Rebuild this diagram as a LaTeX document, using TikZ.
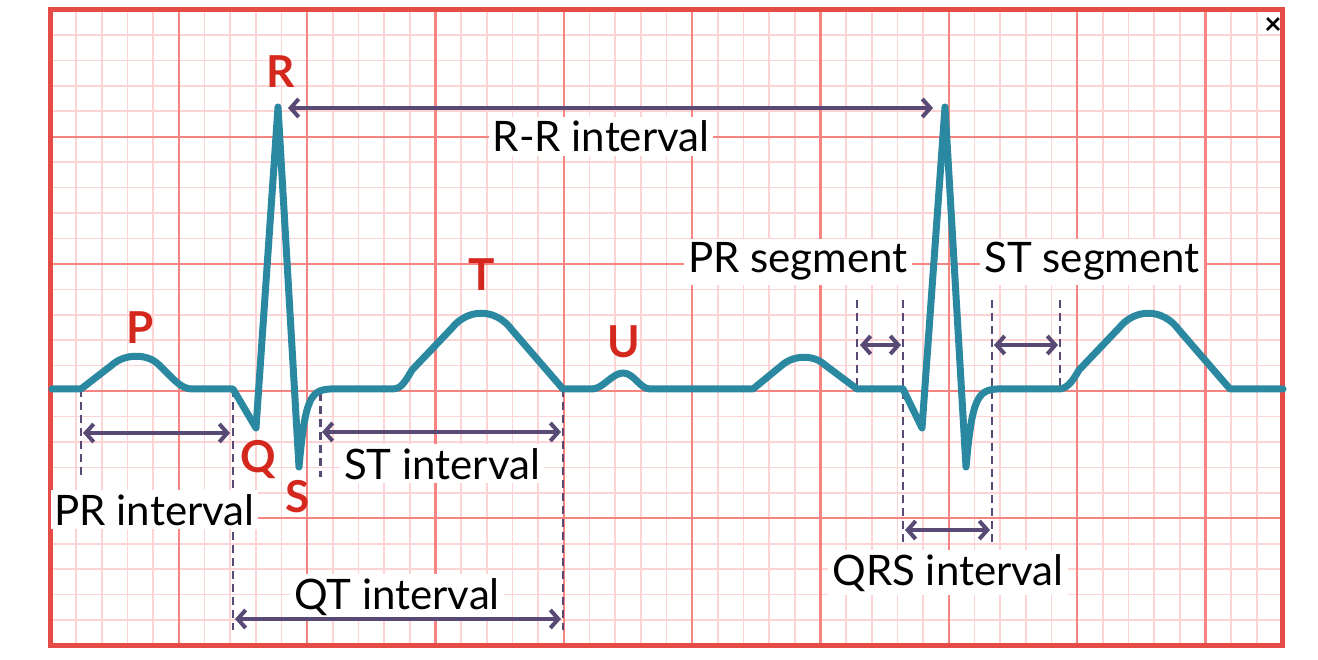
\documentclass[tikz,border=0pt]{standalone}
\usepackage{fontspec}
\setmainfont{Lato}
\usetikzlibrary{arrows.meta}
\definecolor{minorc}{RGB}{253,212,212}
\definecolor{majorc}{RGB}{246,132,128}
\definecolor{borderc}{RGB}{230,76,70}
\definecolor{tracec}{RGB}{42,137,160}
\definecolor{arrc}{RGB}{88,74,116}
\definecolor{wavered}{RGB}{212,40,30}
\begin{document}
\begin{tikzpicture}[x=1pt,y=-1pt,
  lbl/.style={font=\fontsize{42}{48}\selectfont, text=black, fill=white, inner sep=4pt, anchor=base},
  wave/.style={font=\fontsize{44}{50}\selectfont\bfseries, text=wavered, anchor=base, inner sep=0pt},
  dim/.style={draw=arrc, line width=4pt, line cap=round,
    {Straight Barb[length=8pt,width=18pt]}-{Straight Barb[length=8pt,width=18pt]}},
  guide/.style={draw=arrc, line width=2.2pt, dash pattern=on 8pt off 5pt},
  trace/.style={draw=tracec, line width=7pt, line join=round, line cap=round},
  minorline/.style={draw=minorc, line width=1.6pt},
  majorline/.style={draw=majorc, line width=2.2pt}]
\useasboundingbox (0,0) rectangle (1318,660);
\fill[white] (0,0) rectangle (1318,660);
% grid
\foreach \k in {0,...,48} {\draw[minorline] ({50.5+\k*25.667},9.5) -- ({50.5+\k*25.667},645.5);}
\foreach \j in {0,...,25} {\draw[minorline] (50.5,{9.5+\j*25.44}) -- (1282.5,{9.5+\j*25.44});}
\foreach \k in {5,10,...,45} {\draw[majorline] ({50.5+\k*25.667},9.5) -- ({50.5+\k*25.667},645.5);}
\foreach \j in {5,10,15,20} {\draw[majorline] (50.5,{9.5+\j*25.44}) -- (1282.5,{9.5+\j*25.44});}
\draw[borderc, line width=5pt] (50.5,9.5) rectangle (1282.5,645.5);
\node[font=\fontsize{30}{30}\selectfont\bfseries, inner sep=0pt] (close) at (1273,26) {×};
% guide coordinates
\coordinate (g1a) at (81,389);   \coordinate (g1b) at (81,477);
\coordinate (g2a) at (233,389);  \coordinate (g2b) at (233,630);
\coordinate (g3a) at (320.5,393); \coordinate (g3b) at (320.5,477);
\coordinate (g4a) at (563,389);  \coordinate (g4b) at (563,630);
\coordinate (g5a) at (857,300);  \coordinate (g5b) at (857,389);
\coordinate (g6a) at (903,300);  \coordinate (g6b) at (903,545);
\coordinate (g7a) at (992,300);  \coordinate (g7b) at (992,545);
\coordinate (g8a) at (1060,300); \coordinate (g8b) at (1060,389);
\draw[guide] (g1a) -- (g1b);
\draw[guide] (g2a) -- (g2b);
\draw[guide] (g3a) -- (g3b);
\draw[guide] (g4a) -- (g4b);
\draw[guide] (g5a) -- (g5b);
\draw[guide] (g6a) -- (g6b);
\draw[guide] (g7a) -- (g7b);
\draw[guide] (g8a) -- (g8b);
% trace
\draw[trace] (52,389) -- (81,389) -- (112,365)
  .. controls (124,354) and (146,353) .. (158,364)
  .. controls (172,377) and (180,389) .. (192,389)
  -- (233,389) -- (256,428) -- (278,107) -- (299,467)
  .. controls (305,400) and (310,390) .. (330,389)
  -- (393,389) .. controls (400,389) and (404,384) .. (412,370)
  -- (452,328) .. controls (468,308) and (496,308) .. (512,330)
  -- (563,389) -- (592,389)
  .. controls (603,389) and (612,373) .. (623,373)
  .. controls (634,373) and (640,389) .. (650,389)
  -- (753,389) -- (781,366)
  .. controls (793,355) and (813,354) .. (825,365)
  -- (857,389) -- (903,389) -- (922,428) -- (945,107) -- (966,467)
  .. controls (972,400) and (977,390) .. (997,389)
  -- (1058,389) .. controls (1066,389) and (1071,384) .. (1079,370)
  -- (1119,328) .. controls (1135,308) and (1163,308) .. (1179,330)
  -- (1230,389) -- (1283,389);
% text labels
\node[lbl] (trr) at (601,152) {R-R interval};
\node[lbl] (tpri) at (154.5,525) {PR interval};
\node[lbl] (tsti) at (442,479) {ST interval};
\node[lbl] (tqt) at (397,609) {QT interval};
\node[lbl] (tprs) at (798,273) {PR segment};
\node[lbl] (tsts) at (1092,273) {ST segment};
\node[lbl] (tqrs) at (948,585) {QRS interval};
% arrows
\coordinate (rr1) at (288,108);  \coordinate (rr2) at (933,108);
\coordinate (pri1) at (83,433);  \coordinate (pri2) at (230,433);
\coordinate (sti1) at (322,432); \coordinate (sti2) at (561,432);
\coordinate (qt1) at (235,619);  \coordinate (qt2) at (561,619);
\coordinate (prs1) at (860,345); \coordinate (prs2) at (901,345);
\coordinate (sts1) at (994,345); \coordinate (sts2) at (1058,345);
\coordinate (qrs1) at (905,530); \coordinate (qrs2) at (990,530);
\draw[dim] (rr1) -- (rr2);
\draw[dim] (pri1) -- (pri2);
\draw[dim] (sti1) -- (sti2);
\draw[dim] (qt1) -- (qt2);
\draw[dim] (prs1) -- (prs2);
\draw[dim] (sts1) -- (sts2);
\draw[dim] (qrs1) -- (qrs2);
% wave labels
\node[wave] (wP) at (140,344) {P};
\node[wave] (wQ) at (258,472) {Q};
\node[wave] (wR) at (281,88) {R};
\node[wave] (wS) at (298,512) {S};
\node[wave] (wT) at (482,291) {T};
\node[wave] (wU) at (624,358) {U};
\end{tikzpicture}
\end{document}
